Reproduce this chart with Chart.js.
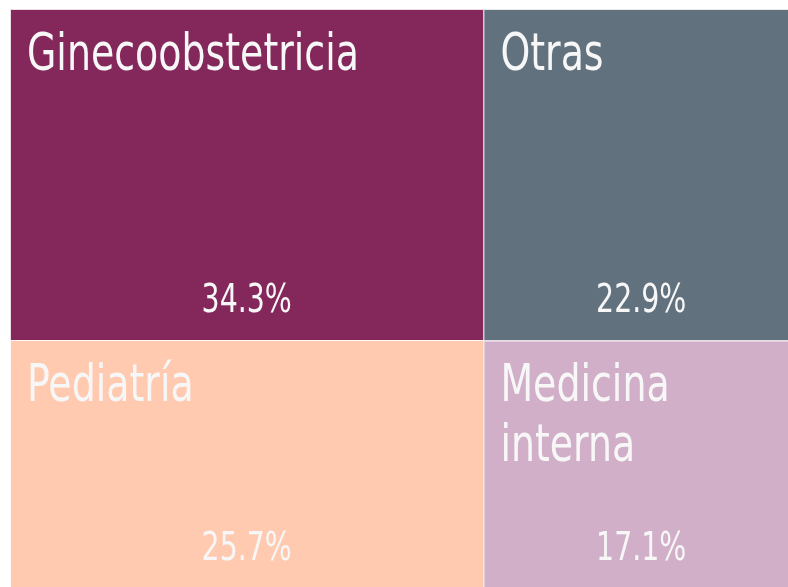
<!DOCTYPE html>
<html>
<head>
<meta charset="utf-8">
<script src="https://cdn.jsdelivr.net/npm/chart.js@4/dist/chart.umd.min.js"></script>
<style>
  html, body { margin: 0; padding: 0; background: #ffffff; overflow: hidden; width: 788px; height: 587px; }
  #wrap { position: absolute; left: 0; top: 0; width: 800px; height: 589px; }
</style>
</head>
<body>
<div id="wrap"><canvas id="c"></canvas></div>
<script>
// ---- data ----
const categories = ['Ginecoobstetricia', 'Otras', 'Pediatría', 'Medicina interna'];
const values = [34.3, 22.9, 25.7, 17.1];
const columns = [0, 1, 0, 1];          // which treemap column each category lives in
const colors = ['#84275B', '#61717E', '#FFCAAF', '#D1AFC8'];

const FONT = "'DejaVu Sans Condensed', 'Liberation Sans Narrow', sans-serif";
const SQUEEZE = 0.81;   // horizontal text compression to mimic a condensed face

// Treemap layout in value units (0..100 on both axes), derived from the values
function layout() {
  const total = values.reduce((a, b) => a + b, 0);
  const colTotals = [0, 0];
  values.forEach((v, i) => colTotals[columns[i]] += v);
  const rects = [];
  let xStart = 0;
  const colX = [];
  colTotals.forEach((t) => { colX.push([xStart, xStart + t / total * 100]); xStart += t / total * 100; });
  const colY = [0, 0];
  values.forEach((v, i) => {
    const c = columns[i];
    const h = v / colTotals[c] * 100;
    rects.push({ x0: colX[c][0], x1: colX[c][1], y0: colY[c], y1: colY[c] + h, i });
    colY[c] += h;
  });
  return rects;
}

function squeezedText(ctx, text, x, y, align) {
  const w = ctx.measureText(text).width * SQUEEZE;
  let left = x;
  if (align === 'center') left = x - w / 2;
  ctx.save();
  ctx.translate(left, y);
  ctx.scale(SQUEEZE, 1);
  ctx.textAlign = 'left';
  ctx.fillText(text, 0, 0);
  ctx.restore();
}

const treemapPlugin = {
  id: 'treemap',
  beforeDatasetsDraw(chart) {
    const { ctx, scales: { x, y } } = chart;
    const rects = layout();
    ctx.save();
    rects.forEach(r => {
      const px0 = x.getPixelForValue(r.x0), px1 = x.getPixelForValue(r.x1);
      const py0 = y.getPixelForValue(r.y0), py1 = y.getPixelForValue(r.y1);
      const w = px1 - px0, h = py1 - py0;
      ctx.fillStyle = colors[r.i];
      ctx.fillRect(px0, py0, w, h);
      ctx.strokeStyle = 'rgba(255,255,255,0.85)';
      ctx.lineWidth = 1;
      ctx.strokeRect(px0 + 0.5, py0 + 0.5, w, h);

      // category label, wrapped
      ctx.fillStyle = '#f7f7f7';
      ctx.textBaseline = 'alphabetic';
      ctx.font = '52px ' + FONT;
      const maxW = w - 36;
      const words = categories[r.i].split(' ');
      const lines = [];
      let cur = '';
      words.forEach(wd => {
        const t = cur ? cur + ' ' + wd : wd;
        if (ctx.measureText(t).width * SQUEEZE > maxW && cur) { lines.push(cur); cur = wd; } else { cur = t; }
      });
      lines.push(cur);
      lines.forEach((ln, k) => squeezedText(ctx, ln, px0 + 17, py0 + 61 + k * 60, 'left'));

      // percentage
      ctx.font = '39px ' + FONT;
      squeezedText(ctx, values[r.i].toFixed(1) + '%', (px0 + px1) / 2, py1 - 28, 'center');
    });
    ctx.restore();
  }
};

new Chart(document.getElementById('c'), {
  type: 'scatter',
  data: {
    datasets: [{
      label: 'Especialidad',
      data: layout().map(r => ({ x: (r.x0 + r.x1) / 2, y: (r.y0 + r.y1) / 2 })),
      pointRadius: 0,
      pointHoverRadius: 0
    }]
  },
  options: {
    responsive: true,
    maintainAspectRatio: false,
    animation: false,
    layout: { padding: { left: 10, top: 9, right: 1, bottom: 1 } },
    plugins: { legend: { display: false }, tooltip: { enabled: false } },
    scales: {
      x: { type: 'linear', min: 0, max: 100, display: false },
      y: { type: 'linear', min: 0, max: 100, reverse: true, display: false }
    }
  },
  plugins: [treemapPlugin]
});
</script>
</body>
</html>
